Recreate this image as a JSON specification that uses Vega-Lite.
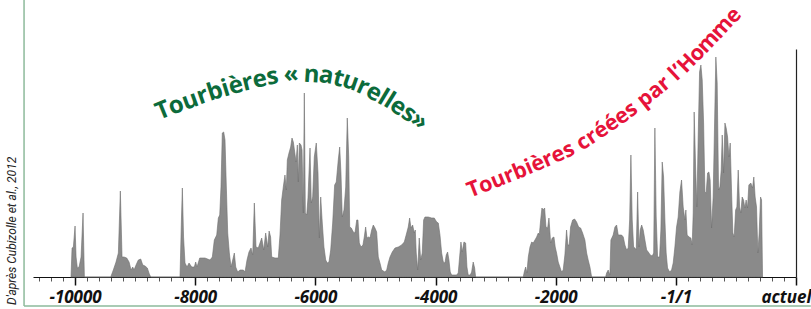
{
  "$schema": "https://vega.github.io/schema/vega-lite/v6.json",
  "width": 763,
  "height": 228,
  "autosize": {"type": "none"},
  "padding": {"left": 33, "top": 49, "right": 15, "bottom": 32},
  "background": "white",
  "config": {
    "view": {"stroke": null},
    "text": {"font": "Open Sans", "fontSize": 24, "fontWeight": "bold", "align": "center", "baseline": "middle"}
  },
  "datasets": {
    "one": [{}],
    "peat": [
      {"year":-10067,"h":0},{"year":-10050,"h":29},{"year":-10028,"h":30},{"year":-10000,"h":51},{"year":-9983,"h":20},{"year":-9962,"h":9},{"year":-9933,"h":10},{"year":-9900,"h":20},{"year":-9867,"h":64},{"year":-9845,"h":0},
      {"year":-9406,"h":0},{"year":-9363,"h":7},{"year":-9318,"h":15},{"year":-9279,"h":24},{"year":-9246,"h":86},{"year":-9218,"h":20},{"year":-9185,"h":20},{"year":-9140,"h":19},{"year":-9101,"h":15},{"year":-9068,"h":7},{"year":-9040,"h":10},{"year":-9018,"h":7},{"year":-8985,"h":12},{"year":-8947,"h":17},{"year":-8907,"h":18},{"year":-8873,"h":12},{"year":-8835,"h":11},{"year":-8797,"h":9},{"year":-8764,"h":3},{"year":-8740,"h":0},
      {"year":-8253,"h":0},{"year":-8228,"h":60},{"year":-8214,"h":89},{"year":-8194,"h":40},{"year":-8170,"h":14},{"year":-8136,"h":10},{"year":-8103,"h":14},{"year":-8058,"h":10},{"year":-8015,"h":10},{"year":-7992,"h":15},{"year":-7970,"h":10},{"year":-7925,"h":19},{"year":-7837,"h":19},{"year":-7754,"h":17},{"year":-7715,"h":20},{"year":-7682,"h":37},{"year":-7642,"h":42},{"year":-7615,"h":59},{"year":-7592,"h":62},{"year":-7571,"h":90},{"year":-7549,"h":144},{"year":-7526,"h":145},{"year":-7504,"h":137},{"year":-7482,"h":90},{"year":-7459,"h":44},{"year":-7432,"h":24},{"year":-7404,"h":10},{"year":-7376,"h":17},{"year":-7349,"h":24},{"year":-7326,"h":10},{"year":-7293,"h":5},{"year":-7254,"h":7},{"year":-7199,"h":7},{"year":-7171,"h":5},{"year":-7138,"h":17},{"year":-7105,"h":25},{"year":-7071,"h":29},{"year":-7043,"h":22},{"year":-7016,"h":74},{"year":-6988,"h":30},{"year":-6950,"h":29},{"year":-6916,"h":35},{"year":-6893,"h":39},{"year":-6860,"h":27},{"year":-6827,"h":44},{"year":-6793,"h":30},{"year":-6770,"h":46},{"year":-6745,"h":40},{"year":-6727,"h":20},{"year":-6672,"h":19},{"year":-6617,"h":19},{"year":-6589,"h":42},{"year":-6561,"h":77},{"year":-6534,"h":90},{"year":-6506,"h":102},{"year":-6484,"h":87},{"year":-6467,"h":117},{"year":-6439,"h":124},{"year":-6411,"h":130},{"year":-6389,"h":139},{"year":-6367,"h":135},{"year":-6344,"h":125},{"year":-6322,"h":115},{"year":-6300,"h":132},{"year":-6284,"h":95},{"year":-6267,"h":134},{"year":-6239,"h":132},{"year":-6222,"h":127},{"year":-6201,"h":64},{"year":-6184,"h":184},{"year":-6167,"h":64},{"year":-6144,"h":62},{"year":-6123,"h":79},{"year":-6089,"h":129},{"year":-6068,"h":74},{"year":-6045,"h":80},{"year":-6018,"h":120},{"year":-5985,"h":134},{"year":-5956,"h":104},{"year":-5934,"h":39},{"year":-5911,"h":80},{"year":-5885,"h":54},{"year":-5857,"h":30},{"year":-5828,"h":17},{"year":-5802,"h":14},{"year":-5773,"h":15},{"year":-5745,"h":27},{"year":-5712,"h":54},{"year":-5679,"h":92},{"year":-5652,"h":95},{"year":-5619,"h":117},{"year":-5595,"h":130},{"year":-5574,"h":104},{"year":-5552,"h":60},{"year":-5524,"h":67},{"year":-5495,"h":90},{"year":-5469,"h":159},{"year":-5445,"h":120},{"year":-5429,"h":50},{"year":-5402,"h":49},{"year":-5369,"h":45},{"year":-5341,"h":44},{"year":-5312,"h":57},{"year":-5291,"h":57},{"year":-5269,"h":34},{"year":-5241,"h":30},{"year":-5208,"h":32},{"year":-5186,"h":40},{"year":-5163,"h":50},{"year":-5141,"h":39},{"year":-5113,"h":40},{"year":-5091,"h":39},{"year":-5063,"h":47},{"year":-5036,"h":52},{"year":-5008,"h":49},{"year":-4980,"h":45},{"year":-4953,"h":20},{"year":-4925,"h":14},{"year":-4896,"h":7},{"year":-4842,"h":5},{"year":-4813,"h":7},{"year":-4787,"h":14},{"year":-4758,"h":20},{"year":-4720,"h":25},{"year":-4675,"h":29},{"year":-4620,"h":30},{"year":-4564,"h":32},{"year":-4520,"h":35},{"year":-4480,"h":44},{"year":-4454,"h":50},{"year":-4431,"h":59},{"year":-4409,"h":49},{"year":-4381,"h":52},{"year":-4354,"h":44},{"year":-4337,"h":47},{"year":-4321,"h":24},{"year":-4297,"h":7},{"year":-4271,"h":39},{"year":-4247,"h":17},{"year":-4221,"h":24},{"year":-4198,"h":57},{"year":-4176,"h":60},{"year":-4121,"h":60},{"year":-4064,"h":59},{"year":-4021,"h":59},{"year":-3981,"h":55},{"year":-3954,"h":54},{"year":-3926,"h":42},{"year":-3898,"h":24},{"year":-3871,"h":15},{"year":-3843,"h":14},{"year":-3822,"h":22},{"year":-3799,"h":25},{"year":-3777,"h":17},{"year":-3755,"h":5},{"year":-3732,"h":2},{"year":-3649,"h":2},{"year":-3622,"h":4},{"year":-3599,"h":20},{"year":-3577,"h":35},{"year":-3556,"h":25},{"year":-3527,"h":35},{"year":-3499,"h":34},{"year":-3477,"h":10},{"year":-3456,"h":2},{"year":-3422,"h":2},{"year":-3399,"h":5},{"year":-3373,"h":15},{"year":-3349,"h":9},{"year":-3333,"h":0},
      {"year":-2540,"h":0},{"year":-2523,"h":5},{"year":-2500,"h":10},{"year":-2479,"h":4},{"year":-2456,"h":20},{"year":-2428,"h":30},{"year":-2400,"h":35},{"year":-2374,"h":34},{"year":-2345,"h":37},{"year":-2317,"h":40},{"year":-2290,"h":44},{"year":-2273,"h":42},{"year":-2250,"h":57},{"year":-2229,"h":69},{"year":-2207,"h":67},{"year":-2184,"h":69},{"year":-2162,"h":50},{"year":-2134,"h":49},{"year":-2112,"h":59},{"year":-2084,"h":34},{"year":-2058,"h":39},{"year":-2029,"h":40},{"year":-2008,"h":30},{"year":-1985,"h":24},{"year":-1958,"h":15},{"year":-1930,"h":10},{"year":-1902,"h":5},{"year":-1875,"h":7},{"year":-1847,"h":22},{"year":-1819,"h":47},{"year":-1797,"h":32},{"year":-1775,"h":32},{"year":-1752,"h":50},{"year":-1718,"h":57},{"year":-1685,"h":58},{"year":-1652,"h":55},{"year":-1618,"h":50},{"year":-1585,"h":49},{"year":-1552,"h":44},{"year":-1514,"h":37},{"year":-1485,"h":24},{"year":-1459,"h":17},{"year":-1430,"h":10},{"year":-1402,"h":0},
      {"year":-1169,"h":0},{"year":-1152,"h":4},{"year":-1126,"h":7},{"year":-1098,"h":2},{"year":-1081,"h":37},{"year":-1043,"h":42},{"year":-1014,"h":50},{"year":-986,"h":52},{"year":-959,"h":42},{"year":-903,"h":42},{"year":-875,"h":40},{"year":-848,"h":32},{"year":-819,"h":27},{"year":-793,"h":29},{"year":-769,"h":57},{"year":-748,"h":122},{"year":-726,"h":57},{"year":-703,"h":30},{"year":-681,"h":29},{"year":-659,"h":27},{"year":-636,"h":85},{"year":-614,"h":30},{"year":-593,"h":47},{"year":-569,"h":52},{"year":-543,"h":47},{"year":-515,"h":37},{"year":-486,"h":27},{"year":-459,"h":25},{"year":-426,"h":22},{"year":-393,"h":21},{"year":-369,"h":24},{"year":-349,"h":149},{"year":-327,"h":60},{"year":-304,"h":20},{"year":-271,"h":20},{"year":-249,"h":47},{"year":-227,"h":115},{"year":-204,"h":100},{"year":-182,"h":57},{"year":-161,"h":24},{"year":-138,"h":9},{"year":-104,"h":5},{"year":-71,"h":7},{"year":-44,"h":14},{"year":-16,"h":30},{"year":12,"h":50},{"year":39,"h":60},{"year":67,"h":85},{"year":95,"h":97},{"year":122,"h":70},{"year":151,"h":57},{"year":167,"h":67},{"year":188,"h":42},{"year":222,"h":40},{"year":250,"h":39},{"year":272,"h":32},{"year":289,"h":64},{"year":305,"h":165},{"year":329,"h":110},{"year":350,"h":70},{"year":372,"h":140},{"year":395,"h":205},{"year":417,"h":212},{"year":439,"h":197},{"year":462,"h":154},{"year":484,"h":85},{"year":505,"h":84},{"year":528,"h":104},{"year":550,"h":105},{"year":571,"h":97},{"year":595,"h":49},{"year":621,"h":80},{"year":645,"h":154},{"year":666,"h":220},{"year":688,"h":194},{"year":711,"h":87},{"year":733,"h":90},{"year":755,"h":107},{"year":772,"h":142},{"year":795,"h":104},{"year":817,"h":154},{"year":838,"h":149},{"year":861,"h":140},{"year":883,"h":120},{"year":905,"h":134},{"year":928,"h":84},{"year":949,"h":44},{"year":971,"h":40},{"year":995,"h":67},{"year":1016,"h":70},{"year":1038,"h":107},{"year":1061,"h":70},{"year":1082,"h":64},{"year":1104,"h":80},{"year":1127,"h":77},{"year":1149,"h":69},{"year":1170,"h":77},{"year":1193,"h":69},{"year":1215,"h":92},{"year":1248,"h":94},{"year":1277,"h":89},{"year":1298,"h":100},{"year":1320,"h":80},{"year":1343,"h":70},{"year":1365,"h":24},{"year":1387,"h":44},{"year":1410,"h":80},{"year":1427,"h":77},{"year":1443,"h":0}
    ]
  },
  "layer": [
    {
      "data": {"name": "peat"},
      "mark": {"type": "area", "color": "#8a8a8a", "stroke": "#6f6f6f", "strokeWidth": 0.6, "interpolate": "linear"},
      "encoding": {
        "x": {
          "field": "year", "type": "quantitative",
          "scale": {"domain": [-10700, 2000], "nice": false, "zero": false},
          "axis": {
            "title": null, "grid": false, "tickCount": 200,
            "values": [-10600,-10400,-10200,-10000,-9800,-9600,-9400,-9200,-9000,-8800,-8600,-8400,-8200,-8000,-7800,-7600,-7400,-7200,-7000,-6800,-6600,-6400,-6200,-6000,-5800,-5600,-5400,-5200,-5000,-4800,-4600,-4400,-4200,-4000,-3800,-3600,-3400,-3200,-3000,-2800,-2600,-2400,-2200,-2000,-1800,-1600,-1400,-1200,-1000,-800,-600,-400,-200,0,200,400,600,800,1000,1200,1400,1600,1800,2000],
            "domainColor": "#111", "domainWidth": 1,
            "tickColor": {"condition": {"test": "datum.value % 2000 === 0", "value": "#111"}, "value": "#555"},
            "tickSize": {"condition": {"test": "datum.value % 2000 === 0", "value": 8}, "value": 4},
            "tickWidth": {"condition": {"test": "datum.value % 2000 === 0", "value": 1.5}, "value": 1},
            "labelExpr": "datum.value % 2000 === 0 ? (datum.value === 0 ? '-1/1' : (datum.value === 2000 ? 'actuel' : '' + datum.value)) : ''",
            "labelFont": "Open Sans", "labelFontSize": 17, "labelFontWeight": "bold", "labelFontStyle": "italic",
            "labelColor": "#111", "labelPadding": 4, "labelOverlap": false, "labelBound": false,
            "labelFlush": true, "labelFlushOffset": 15
          }
        },
        "y": {
          "field": "h", "type": "quantitative",
          "scale": {"domain": [0, 228], "nice": false, "zero": false},
          "axis": {"orient": "right", "title": null, "labels": false, "ticks": false, "grid": false, "domainColor": "#222", "domainWidth": 1.2}
        }
      }
    },
    {"data": {"name": "one"}, "mark": {"type": "rule", "color": "#8dba9b", "strokeWidth": 1.5}, "encoding": {"x": {"datum": -10849}, "y": {"datum": -29}, "y2": {"datum": 277}}},
    {"data": {"name": "one"}, "mark": {"type": "rule", "color": "#8dba9b", "strokeWidth": 1.5}, "encoding": {"x": {"datum": -10849}, "x2": {"datum": 2247}, "y": {"datum": -29}}},
    {"data": {"name": "one"}, "mark": {"type": "text", "text": "D'après Cubizolle et al., 2012", "angle": 270, "align": "left", "baseline": "middle", "font": "Roboto", "fontSize": 12, "fontWeight": "normal", "fontStyle": "italic", "color": "#222"}, "encoding": {"x": {"datum": -11048}, "y": {"datum": -28}}},

    {"data": {"name": "one"}, "mark": {"type": "text", "text": "T", "angle": 338, "color": "#0c6b3b"}, "encoding": {"x": {"datum": -8536}, "y": {"datum": 166}}},
    {"data": {"name": "one"}, "mark": {"type": "text", "text": "o", "angle": 339, "color": "#0c6b3b"}, "encoding": {"x": {"datum": -8316}, "y": {"datum": 171}}},
    {"data": {"name": "one"}, "mark": {"type": "text", "text": "u", "angle": 340, "color": "#0c6b3b"}, "encoding": {"x": {"datum": -8081}, "y": {"datum": 176}}},
    {"data": {"name": "one"}, "mark": {"type": "text", "text": "r", "angle": 341, "color": "#0c6b3b"}, "encoding": {"x": {"datum": -7875}, "y": {"datum": 181}}},
    {"data": {"name": "one"}, "mark": {"type": "text", "text": "b", "angle": 342, "color": "#0c6b3b"}, "encoding": {"x": {"datum": -7670}, "y": {"datum": 185}}},
    {"data": {"name": "one"}, "mark": {"type": "text", "text": "i", "angle": 343, "color": "#0c6b3b"}, "encoding": {"x": {"datum": -7494}, "y": {"datum": 188}}},
    {"data": {"name": "one"}, "mark": {"type": "text", "text": "è", "angle": 344, "color": "#0c6b3b"}, "encoding": {"x": {"datum": -7324}, "y": {"datum": 191}}},
    {"data": {"name": "one"}, "mark": {"type": "text", "text": "r", "angle": 346, "color": "#0c6b3b"}, "encoding": {"x": {"datum": -7126}, "y": {"datum": 194}}},
    {"data": {"name": "one"}, "mark": {"type": "text", "text": "e", "angle": 348, "color": "#0c6b3b"}, "encoding": {"x": {"datum": -6925}, "y": {"datum": 197}}},
    {"data": {"name": "one"}, "mark": {"type": "text", "text": "s", "angle": 350, "color": "#0c6b3b"}, "encoding": {"x": {"datum": -6714}, "y": {"datum": 200}}},
    {"data": {"name": "one"}, "mark": {"type": "text", "text": "«", "angle": 355, "color": "#0c6b3b"}, "encoding": {"x": {"datum": -6404}, "y": {"datum": 202}}},
    {"data": {"name": "one"}, "mark": {"type": "text", "text": "n", "angle": 4, "color": "#0c6b3b"}, "encoding": {"x": {"datum": -6063}, "y": {"datum": 202}}},
    {"data": {"name": "one"}, "mark": {"type": "text", "text": "a", "angle": 9, "color": "#0c6b3b"}, "encoding": {"x": {"datum": -5817}, "y": {"datum": 201}}},
    {"data": {"name": "one"}, "mark": {"type": "text", "text": "t", "angle": 14, "color": "#0c6b3b"}, "encoding": {"x": {"datum": -5617}, "y": {"datum": 198}}},
    {"data": {"name": "one"}, "mark": {"type": "text", "text": "u", "angle": 19, "color": "#0c6b3b"}, "encoding": {"x": {"datum": -5414}, "y": {"datum": 195}}},
    {"data": {"name": "one"}, "mark": {"type": "text", "text": "r", "angle": 24, "color": "#0c6b3b"}, "encoding": {"x": {"datum": -5211}, "y": {"datum": 190}}},
    {"data": {"name": "one"}, "mark": {"type": "text", "text": "e", "angle": 28, "color": "#0c6b3b"}, "encoding": {"x": {"datum": -5026}, "y": {"datum": 184}}},
    {"data": {"name": "one"}, "mark": {"type": "text", "text": "l", "angle": 31, "color": "#0c6b3b"}, "encoding": {"x": {"datum": -4873}, "y": {"datum": 179}}},
    {"data": {"name": "one"}, "mark": {"type": "text", "text": "l", "angle": 32, "color": "#0c6b3b"}, "encoding": {"x": {"datum": -4770}, "y": {"datum": 176}}},
    {"data": {"name": "one"}, "mark": {"type": "text", "text": "e", "angle": 33, "color": "#0c6b3b"}, "encoding": {"x": {"datum": -4624}, "y": {"datum": 170}}},
    {"data": {"name": "one"}, "mark": {"type": "text", "text": "s", "angle": 34, "color": "#0c6b3b"}, "encoding": {"x": {"datum": -4442}, "y": {"datum": 163}}},
    {"data": {"name": "one"}, "mark": {"type": "text", "text": "»", "angle": 35, "color": "#0c6b3b"}, "encoding": {"x": {"datum": -4271}, "y": {"datum": 156}}},

    {"data": {"name": "one"}, "mark": {"type": "text", "text": "T", "angle": 339, "fontSize": 21.5, "color": "#e6133a"}, "encoding": {"x": {"datum": -3361}, "y": {"datum": 87}}},
    {"data": {"name": "one"}, "mark": {"type": "text", "text": "o", "angle": 339, "fontSize": 21.5, "color": "#e6133a"}, "encoding": {"x": {"datum": -3164}, "y": {"datum": 91.5}}},
    {"data": {"name": "one"}, "mark": {"type": "text", "text": "u", "angle": 338, "fontSize": 21.5, "color": "#e6133a"}, "encoding": {"x": {"datum": -2955}, "y": {"datum": 96.5}}},
    {"data": {"name": "one"}, "mark": {"type": "text", "text": "r", "angle": 338, "fontSize": 21.5, "color": "#e6133a"}, "encoding": {"x": {"datum": -2773}, "y": {"datum": 101}}},
    {"data": {"name": "one"}, "mark": {"type": "text", "text": "b", "angle": 338, "fontSize": 21.5, "color": "#e6133a"}, "encoding": {"x": {"datum": -2593}, "y": {"datum": 105}}},
    {"data": {"name": "one"}, "mark": {"type": "text", "text": "i", "angle": 337, "fontSize": 21.5, "color": "#e6133a"}, "encoding": {"x": {"datum": -2440}, "y": {"datum": 109}}},
    {"data": {"name": "one"}, "mark": {"type": "text", "text": "è", "angle": 337, "fontSize": 21.5, "color": "#e6133a"}, "encoding": {"x": {"datum": -2296}, "y": {"datum": 112.7}}},
    {"data": {"name": "one"}, "mark": {"type": "text", "text": "r", "angle": 336, "fontSize": 21.5, "color": "#e6133a"}, "encoding": {"x": {"datum": -2126}, "y": {"datum": 117}}},
    {"data": {"name": "one"}, "mark": {"type": "text", "text": "e", "angle": 336, "fontSize": 21.5, "color": "#e6133a"}, "encoding": {"x": {"datum": -1958}, "y": {"datum": 121.6}}},
    {"data": {"name": "one"}, "mark": {"type": "text", "text": "s", "angle": 335, "fontSize": 21.5, "color": "#e6133a"}, "encoding": {"x": {"datum": -1780}, "y": {"datum": 126.5}}},
    {"data": {"name": "one"}, "mark": {"type": "text", "text": "c", "angle": 328, "fontSize": 21.5, "color": "#e6133a"}, "encoding": {"x": {"datum": -1539}, "y": {"datum": 134}}},
    {"data": {"name": "one"}, "mark": {"type": "text", "text": "r", "angle": 327, "fontSize": 21.5, "color": "#e6133a"}, "encoding": {"x": {"datum": -1394}, "y": {"datum": 139.7}}},
    {"data": {"name": "one"}, "mark": {"type": "text", "text": "é", "angle": 326, "fontSize": 21.5, "color": "#e6133a"}, "encoding": {"x": {"datum": -1239}, "y": {"datum": 146}}},
    {"data": {"name": "one"}, "mark": {"type": "text", "text": "é", "angle": 325, "fontSize": 21.5, "color": "#e6133a"}, "encoding": {"x": {"datum": -1068}, "y": {"datum": 153}}},
    {"data": {"name": "one"}, "mark": {"type": "text", "text": "e", "angle": 325, "fontSize": 21.5, "color": "#e6133a"}, "encoding": {"x": {"datum": -898}, "y": {"datum": 160}}},
    {"data": {"name": "one"}, "mark": {"type": "text", "text": "s", "angle": 324, "fontSize": 21.5, "color": "#e6133a"}, "encoding": {"x": {"datum": -740}, "y": {"datum": 167}}},
    {"data": {"name": "one"}, "mark": {"type": "text", "text": "p", "angle": 322, "fontSize": 21.5, "color": "#e6133a"}, "encoding": {"x": {"datum": -505}, "y": {"datum": 177.7}}},
    {"data": {"name": "one"}, "mark": {"type": "text", "text": "a", "angle": 321, "fontSize": 21.5, "color": "#e6133a"}, "encoding": {"x": {"datum": -334}, "y": {"datum": 186}}},
    {"data": {"name": "one"}, "mark": {"type": "text", "text": "r", "angle": 320, "fontSize": 21.5, "color": "#e6133a"}, "encoding": {"x": {"datum": -189}, "y": {"datum": 193}}},
    {"data": {"name": "one"}, "mark": {"type": "text", "text": "l", "angle": 317, "fontSize": 21.5, "color": "#e6133a"}, "encoding": {"x": {"datum": -18}, "y": {"datum": 202}}},
    {"data": {"name": "one"}, "mark": {"type": "text", "text": "’", "angle": 316, "fontSize": 21.5, "color": "#e6133a"}, "encoding": {"x": {"datum": 57}, "y": {"datum": 206}}},
    {"data": {"name": "one"}, "mark": {"type": "text", "text": "H", "angle": 315, "fontSize": 21.5, "color": "#e6133a"}, "encoding": {"x": {"datum": 190}, "y": {"datum": 213}}},
    {"data": {"name": "one"}, "mark": {"type": "text", "text": "o", "angle": 314, "fontSize": 21.5, "color": "#e6133a"}, "encoding": {"x": {"datum": 358}, "y": {"datum": 223}}},
    {"data": {"name": "one"}, "mark": {"type": "text", "text": "m", "angle": 313, "fontSize": 21.5, "color": "#e6133a"}, "encoding": {"x": {"datum": 546}, "y": {"datum": 234.5}}},
    {"data": {"name": "one"}, "mark": {"type": "text", "text": "m", "angle": 312, "fontSize": 21.5, "color": "#e6133a"}, "encoding": {"x": {"datum": 774}, "y": {"datum": 249}}},
    {"data": {"name": "one"}, "mark": {"type": "text", "text": "e", "angle": 312, "fontSize": 21.5, "color": "#e6133a"}, "encoding": {"x": {"datum": 966}, "y": {"datum": 261}}}
  ]
}
